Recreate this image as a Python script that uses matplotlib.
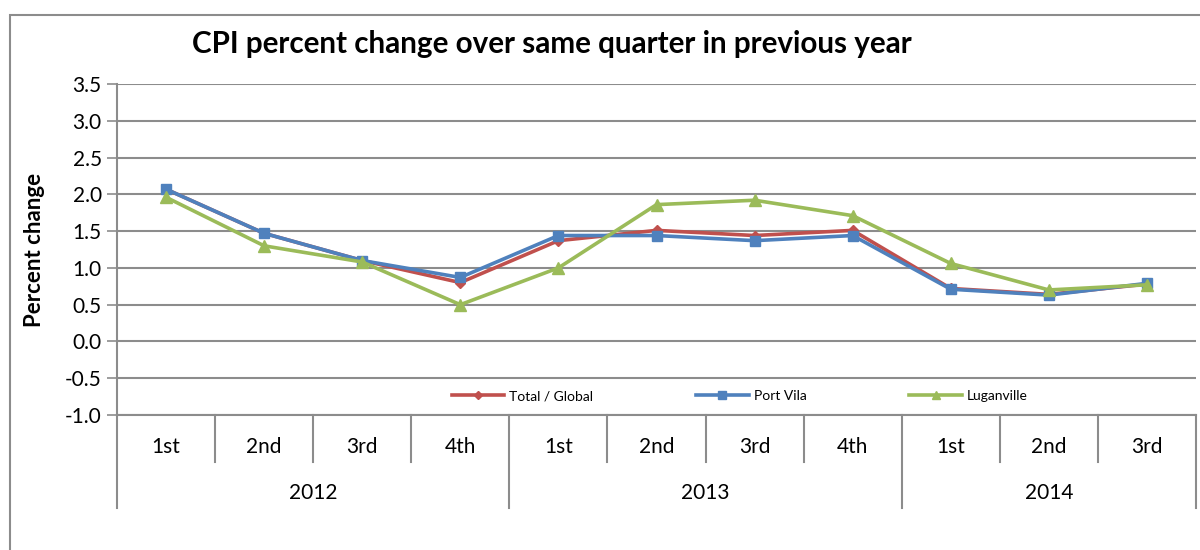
import matplotlib
matplotlib.use("Agg")
import matplotlib.pyplot as plt
import matplotlib.transforms as mtransforms
from matplotlib.patches import Rectangle

plt.rcParams["font.family"] = ["Lato", "DejaVu Sans"]

# Data
quarters = ["1st", "2nd", "3rd", "4th", "1st", "2nd", "3rd", "4th", "1st", "2nd", "3rd"]
years = ["2012", "2013", "2014"]
year_spans = [(0, 4), (4, 8), (8, 11)]

total_global = [2.07, 1.47, 1.10, 0.80, 1.37, 1.51, 1.44, 1.51, 0.72, 0.64, 0.78]
port_vila = [2.07, 1.47, 1.10, 0.87, 1.44, 1.44, 1.37, 1.44, 0.71, 0.63, 0.79]
luganville = [1.96, 1.30, 1.08, 0.50, 1.00, 1.86, 1.92, 1.71, 1.06, 0.70, 0.77]

yticks = [-1.0, -0.5, 0.0, 0.5, 1.0, 1.5, 2.0, 2.5, 3.0, 3.5]

GRID = "#8c8c8c"

fig = plt.figure(figsize=(12, 5.5), dpi=100)
ax = fig.add_axes([117 / 1200, 1 - 415 / 550, (1196 - 117) / 1200, (415 - 84) / 550])

# outer chart frame (runs off the right and bottom edges)
fig.patches.append(
    Rectangle((10 / 1200, -0.1), 1.2, 1.1 - 15 / 550, transform=fig.transFigure,
              fill=False, edgecolor=GRID, linewidth=1.5)
)

x = list(range(len(quarters)))
ax.plot(x, total_global, color="#C0504D", linewidth=2.6, marker="D", markersize=5,
        label="Total / Global", zorder=3)
ax.plot(x, port_vila, color="#4F81BD", linewidth=2.6, marker="s", markersize=7,
        label="Port Vila", zorder=4)
ax.plot(x, luganville, color="#9BBB59", linewidth=2.6, marker="^", markersize=8,
        label="Luganville", zorder=5)

ax.set_xlim(-0.5, len(quarters) - 0.5)
ax.set_ylim(-1.0, 3.5)
ax.set_yticks(yticks)
ax.set_yticklabels([f"{v:.1f}" for v in yticks], fontsize=15)
ax.set_xticks([])
ax.yaxis.grid(True, color=GRID, linewidth=1.5)
ax.set_axisbelow(True)
ax.tick_params(axis="y", length=7, width=1.2, color=GRID, pad=4)
for side in ["top", "right"]:
    ax.spines[side].set_visible(False)
for side in ["left", "bottom"]:
    ax.spines[side].set_color(GRID)
    ax.spines[side].set_linewidth(1.5)

ax.set_ylabel("Percent change", fontsize=16, fontweight="bold")
ax.yaxis.set_label_coords(-0.067, 0.5)

# multi-level category axis
h = 415 - 84
trans = mtransforms.blended_transform_factory(ax.transData, ax.transAxes)
for i, q in enumerate(quarters):
    ax.text(i, -32 / h, q, transform=trans, ha="center", va="center", fontsize=15)
for b in range(1, len(quarters)):
    if b in (4, 8):
        continue
    ax.plot([b - 0.5, b - 0.5], [0, -47 / h], transform=trans, color=GRID,
            linewidth=1.5, clip_on=False)
for (s, e), yr in zip(year_spans, years):
    ax.plot([s - 0.5, s - 0.5], [0, -93 / h], transform=trans, color=GRID,
            linewidth=1.5, clip_on=False)
    ax.text((s + e - 1) / 2, -78 / h, yr, transform=trans, ha="center", va="center",
            fontsize=15)
ax.plot([len(quarters) - 0.5] * 2, [0, -93 / h], transform=trans, color=GRID,
        linewidth=1.5, clip_on=False)

leg = ax.legend(loc="center", bbox_to_anchor=(0.577, 0.057), ncol=3, frameon=False,
                fontsize=10, columnspacing=7.4, handlelength=3.8, handletextpad=0.35,
                markerscale=0.8)

fig.text(552 / 1200, 1 - 44 / 550, "CPI percent change over same quarter in previous year",
         ha="center", va="center", fontsize=21.3, fontweight="bold")

fig.savefig("out.png", dpi=100)
